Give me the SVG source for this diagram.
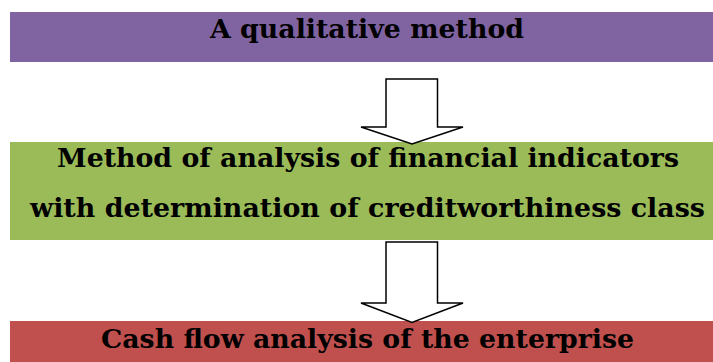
<svg xmlns="http://www.w3.org/2000/svg" width="713" height="362" viewBox="0 0 713 362">
  <style>
    .lbl { font-family: "DejaVu Serif", "Liberation Serif", serif; font-weight: bold; font-size: 25.5px; fill: #000; text-anchor: middle; }
    .arrow { fill: #fff; stroke: #000; stroke-width: 1.5; stroke-linejoin: miter; }
  </style>
  <rect width="713" height="362" fill="#fff"/>

  <g id="qualitative">
    <rect x="10" y="12" width="703" height="50" fill="#8064A2"/>
    <text class="lbl" x="367" y="38" textLength="314" lengthAdjust="spacingAndGlyphs">A qualitative method</text>
  </g>

  <g id="financial">
    <rect x="10" y="142" width="703" height="98" fill="#9BBB59"/>
    <text class="lbl" x="368" y="167" textLength="622" lengthAdjust="spacingAndGlyphs">Method of analysis of financial indicators</text>
    <text class="lbl" x="367.5" y="217" textLength="675" lengthAdjust="spacingAndGlyphs">with determination of creditworthiness class</text>
  </g>

  <g id="cashflow">
    <rect x="10" y="321" width="703" height="41" fill="#C0504D"/>
    <text class="lbl" x="367.5" y="348" textLength="533" lengthAdjust="spacingAndGlyphs">Cash flow analysis of the enterprise</text>
  </g>

  <g id="connectors">
    <path class="arrow" d="M386 79 H437.5 V127 H463 L412 144 L361 127 H386 Z"/>
    <path class="arrow" d="M386 242 H437.5 V303 H463 L412 322.5 L361 303 H386 Z"/>
  </g>
</svg>
